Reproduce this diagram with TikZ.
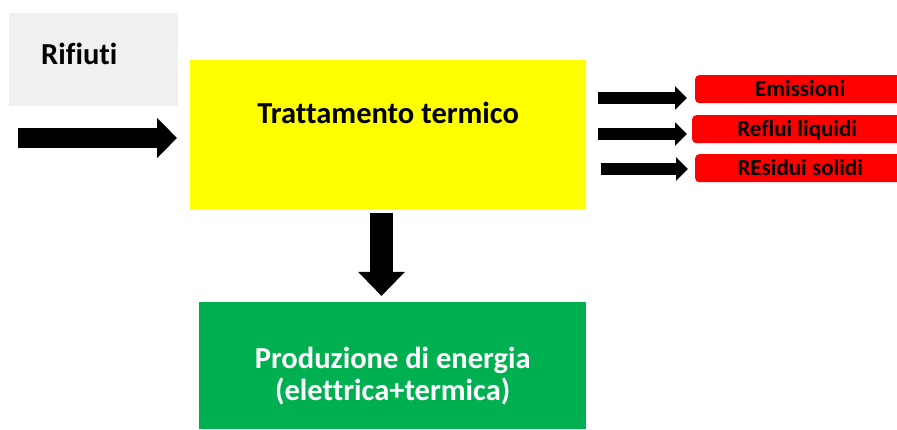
\documentclass[tikz,border=0pt]{standalone}
\usepackage{fontspec}
\setmainfont{Carlito}[Ligatures=NoCommon]
\usetikzlibrary{arrows.meta,positioning}

\definecolor{inputgray}{HTML}{F0F0F0}
\definecolor{ttyellow}{HTML}{FFFF00}
\definecolor{prodgreen}{HTML}{00B050}
\definecolor{outred}{HTML}{FF0000}

\begin{document}
\begin{tikzpicture}[
  x=1pt, y=-1pt,
  box/.style={anchor=north west,inner sep=0pt,align=center,font=\bfseries\fontsize{30.5}{32}\selectfont},
  outbox/.style={anchor=north west,fill=outred,rounded corners=4pt,minimum width=210pt,minimum height=28pt,inner sep=0pt,text height=15pt,text depth=0pt,font=\bfseries\fontsize{23}{24}\selectfont},
  bigarr/.style={-{Triangle[length=20pt,width=39pt]},line width=20pt},
  downarr/.style={-{Triangle[length=24pt,width=45pt]},line width=23pt},
  smallarr/.style={-{Triangle[length=12pt,width=23pt]},line width=12pt}
]
\path[use as bounding box] (0,0) rectangle (897,430);
\clip (0,0) rectangle (897,430);

\node[box,fill=inputgray,minimum width=169pt,minimum height=93pt,text width=105pt,align=left] (rif) at (9,13) {\raisebox{-4.5pt}[0pt][0pt]{Rifiuti}};
\node[box,fill=ttyellow,minimum width=396pt,minimum height=149pt] (tt) at (190,60) {\raisebox{11pt}[0pt][0pt]{Trattamento termico}};
\node[box,fill=prodgreen,text=white,minimum width=387pt,minimum height=127pt] (prod) at (199,302)
  {\raisebox{-34.5pt}[0pt][0pt]{\parbox[b]{387pt}{\centering Produzione di energia\\(elettrica+termica)}}};

\node[outbox] (emi) at (695,75) {Emissioni};
\node[outbox] (ref) at (692,115) {Reflui liquidi};
\node[outbox] (res) at (695,154) {REsidui solidi};

% ends of the block arrows
\coordinate (in) at (18,138);
\coordinate (down) at (381.5,213);
\coordinate (e1) at (598,98);
\coordinate (e2) at (598,134);
\coordinate (e3) at (601,169);

\draw[bigarr] (in) -- ([xshift=-13pt]tt.west |- in);
\draw[downarr] (down) -- ([yshift=6pt]down |- prod.north);
\draw[smallarr] (e1) -- ([xshift=-8pt]emi.west |- e1);
\draw[smallarr] (e2) -- ([xshift=-5pt]ref.west |- e2);
\draw[smallarr] (e3) -- ([xshift=-7pt]res.west |- e3);
\end{tikzpicture}
\end{document}
